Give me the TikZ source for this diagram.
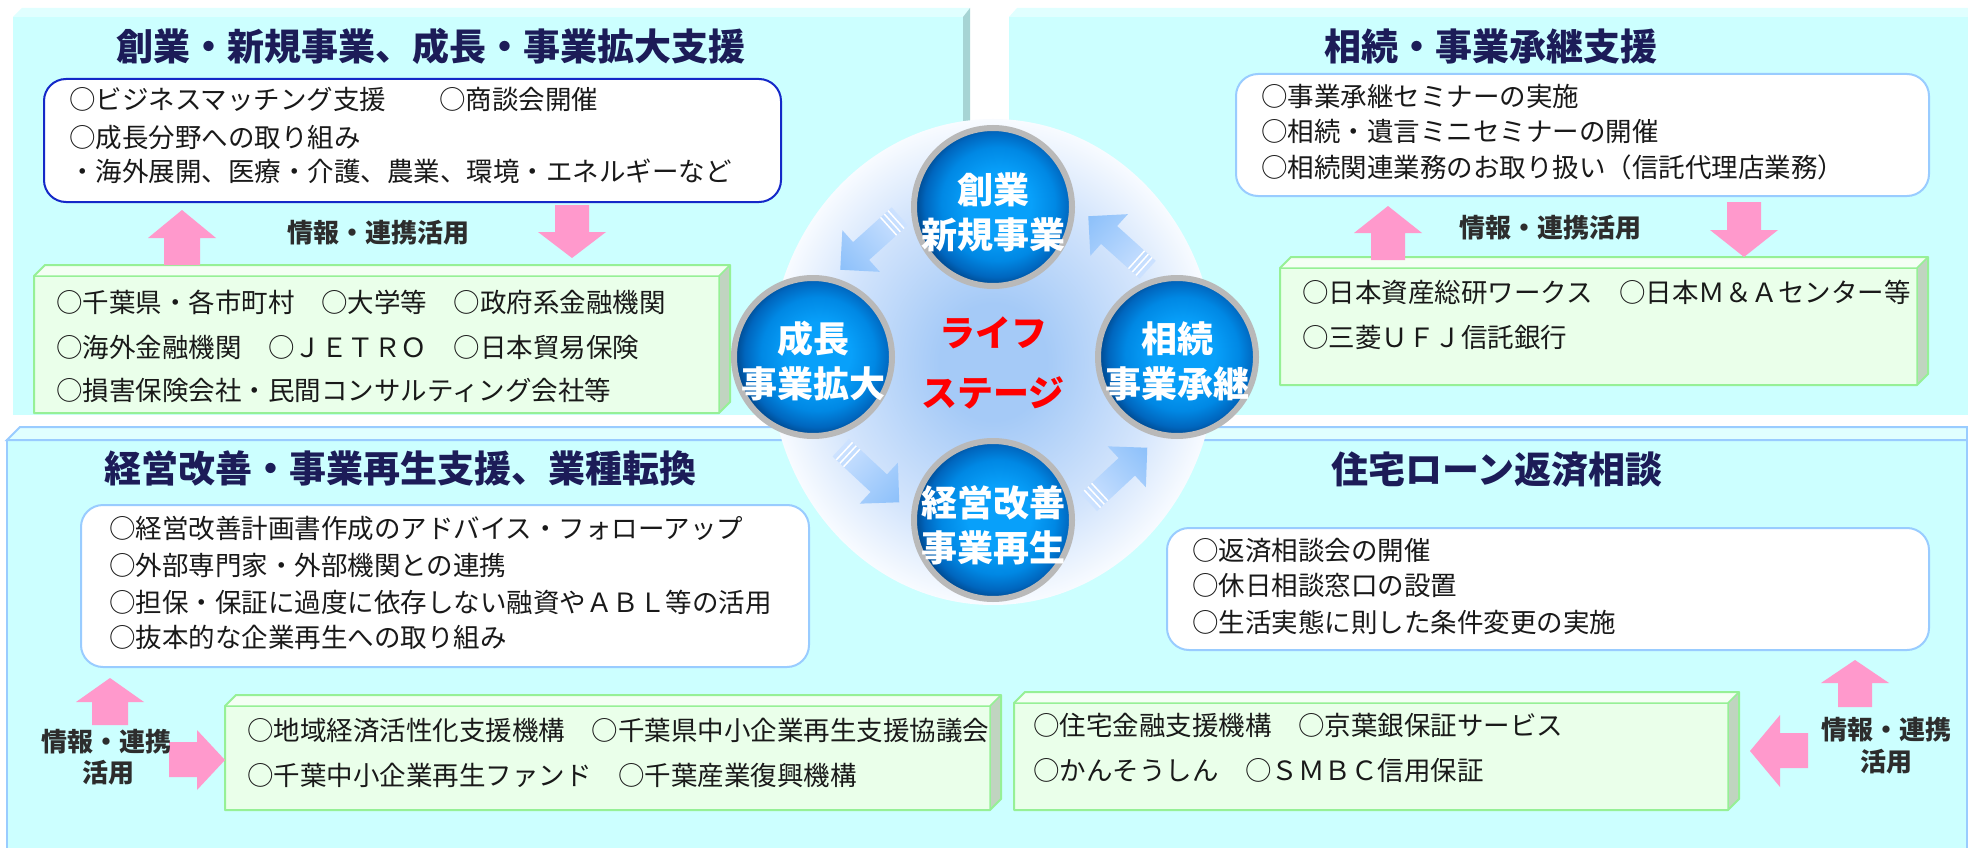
\documentclass[tikz,border=0pt]{standalone}
\usepackage{fontspec}
\setmainfont{Noto Sans CJK JP}
\usetikzlibrary{calc}
\definecolor{panelc}{RGB}{204,255,255}
\definecolor{panelt}{RGB}{224,255,255}
\definecolor{panels}{RGB}{166,212,212}
\definecolor{panelb}{RGB}{153,204,255}
\definecolor{greenf}{RGB}{234,255,234}
\definecolor{greent}{RGB}{244,255,244}
\definecolor{greens}{RGB}{192,212,192}
\definecolor{greenb}{RGB}{150,240,150}
\definecolor{navy}{RGB}{28,28,88}
\definecolor{bodyc}{RGB}{25,25,25}
\definecolor{labelc}{RGB}{45,45,45}
\definecolor{darkblueb}{RGB}{20,40,200}
\definecolor{lightblueb}{RGB}{153,204,255}
\definecolor{pinkc}{RGB}{255,153,204}
\definecolor{arrowb}{RGB}{140,192,250}
\definecolor{arrowt}{RGB}{205,226,255}
\definecolor{glowc}{RGB}{165,202,247}
\definecolor{glowm}{RGB}{212,229,252}
\definecolor{glowe}{RGB}{248,251,255}
\definecolor{ringc}{RGB}{185,185,185}
\definecolor{ballc}{RGB}{8,160,250}
\definecolor{ballm}{RGB}{0,136,228}
\definecolor{balld}{RGB}{0,102,190}
\definecolor{balle}{RGB}{0,70,138}
\pgfdeclareradialshading{glowshade}{\pgfpoint{0bp}{0bp}}{color(0bp)=(glowc); color(6bp)=(glowc); color(18bp)=(glowm); color(25bp)=(glowe); color(50bp)=(glowe)}
\pgfdeclareradialshading{ballshade}{\pgfpoint{2.5bp}{1.5bp}}{color(0bp)=(ballc); color(10bp)=(ballc); color(18bp)=(ballm); color(23bp)=(balld); color(26bp)=(balle); color(50bp)=(balle)}
\newcommand\greenbox[4]{%
  \fill[greenf] (#1,{#2+11}) rectangle (#3,#4);
  \fill[greent] (#1,{#2+11}) -- ({#1+11},#2) -- ({#3+11},#2) -- (#3,{#2+11}) -- cycle;
  \fill[greens] (#3,{#2+11}) -- ({#3+11},#2) -- ({#3+11},{#4-11}) -- (#3,#4) -- cycle;
  \draw[greenb, line width=2pt, line join=round] (#1,{#2+11}) -- ({#1+11},#2) -- ({#3+11},#2) -- ({#3+11},{#4-11}) -- (#3,#4) -- (#1,#4) -- cycle;
  \draw[greenb, line width=1.5pt] (#1,{#2+11}) -- (#3,{#2+11}) -- ({#3+11},#2) (#3,{#2+11}) -- (#3,#4);}
\newcommand\lsarrow[2]{%
  \begin{scope}[transform canvas={shift={#1}, rotate=#2}]
    \shade[left color=arrowt, right color=arrowb] (-40,-12) -- (12,-12) -- (12,-28) -- (40,0) -- (12,28) -- (12,12) -- (-40,12) -- cycle;
    \draw[white, line width=1.5pt] (-35,-12) -- (-35,12) (-30,-12) -- (-30,12) (-25,-12) -- (-25,12);
  \end{scope}}
\tikzset{
  title/.style={font=\fontsize{37}{40}\selectfont\bfseries, text=navy, inner sep=0pt},
  body/.style={font=\fontsize{26.5}{30}\selectfont, text=bodyc, anchor=base west, inner sep=0pt},
  lbl/.style={font=\fontsize{26}{30}\selectfont\bfseries, text=labelc, inner sep=0pt},
  ball/.style={circle, minimum size=158pt, inner sep=0pt, shading=ballshade, draw=ringc, line width=6pt},
  balltxt/.style={font=\fontsize{36}{45}\selectfont\bfseries, text=white, align=center, inner sep=0pt},
  lifetxt/.style={font=\fontsize{36}{60}\selectfont\bfseries, text=red, align=center, inner sep=0pt},
  whitebox/.style={draw=lightblueb, line width=2pt, fill=white, rounded corners=22pt},
  pinkarr/.style={fill=pinkc, draw=none}
}
\begin{document}
\begin{tikzpicture}[x=1pt,y=-1pt]
\useasboundingbox (0,0) rectangle (1968,848);
\fill[white] (0,0) rectangle (1968,848);
% panels
\fill[panelc] (13,17) rectangle (963,415);
\fill[panelt] (13,17) -- (22,8) -- (970,8) -- (963,17) -- cycle;
\fill[panels] (963,17) -- (970,8) -- (970,408) -- (963,415) -- cycle;
\fill[panelc] (1009,17) rectangle (1968,415);
\fill[panelt] (1009,17) -- (1017,8) -- (1968,8) -- (1968,17) -- cycle;
\filldraw[fill=panelc, draw=panelb, line width=2pt] (7,440) rectangle (1967,852);
\filldraw[fill=panelt, draw=panelb, line width=2pt] (7,440) -- (20,427) -- (1967,427) -- (1967,440) -- cycle;
% central glow
\shade[shading=glowshade] (993,362) ellipse [x radius=223, y radius=243];
% titles
\node[title] (t1) at (431,46) {創業・新規事業、成長・事業拡大支援};
\node[title] (t2) at (1491,46) {相続・事業承継支援};
\node[title] (t3) at (400,468) {経営改善・事業再生支援、業種転換};
\node[title] (t4) at (1497,470) {住宅ローン返済相談};
% white boxes
\draw[whitebox, draw=darkblueb] (44,79) rectangle (781,202);
\draw[whitebox] (1236,74) rectangle (1929,196);
\draw[whitebox] (81,505) rectangle (809,667);
\draw[whitebox] (1167,528) rectangle (1929,650);
% green boxes
\greenbox{34}{265}{719}{413}
\greenbox{1280}{257}{1917}{385}
\greenbox{225}{695}{990}{810}
\greenbox{1014}{692}{1728}{810}
% pink arrows
\fill[pinkarr] (164,265) -- (164,238) -- (148,238) -- (182,210) -- (216,238) -- (200,238) -- (200,265) -- cycle;
\fill[pinkarr] (555,205) -- (555,232) -- (538,232) -- (572,258) -- (606,232) -- (589,232) -- (589,205) -- cycle;
\fill[pinkarr] (1371,260) -- (1371,233) -- (1354,233) -- (1388,206) -- (1422,233) -- (1405,233) -- (1405,260) -- cycle;
\fill[pinkarr] (1727,202) -- (1727,230) -- (1710,230) -- (1744,257) -- (1778,230) -- (1761,230) -- (1761,202) -- cycle;
\fill[pinkarr] (92,725) -- (92,702) -- (76,702) -- (110,678) -- (144,702) -- (128,702) -- (128,725) -- cycle;
\fill[pinkarr] (169,742) -- (197,742) -- (197,730) -- (225,760) -- (197,790) -- (197,777) -- (169,777) -- cycle;
\fill[pinkarr] (1838,707) -- (1838,683) -- (1821,683) -- (1855,660) -- (1889,683) -- (1872,683) -- (1872,707) -- cycle;
\fill[pinkarr] (1808,733) -- (1780,733) -- (1780,715) -- (1750,751) -- (1780,787) -- (1780,768) -- (1808,768) -- cycle;
% labels
\node[lbl] (l1) at (378,233) {情報・連携活用};
\node[lbl] (l2) at (1550,228) {情報・連携活用};
\node[lbl] (l3a) at (106,742) {情報・連携};
\node[lbl] (l3b) at (108,773) {活用};
\node[lbl] (l4a) at (1886,730) {情報・連携};
\node[lbl] (l4b) at (1886,762) {活用};
% body text
\node[body] (a1) at (69,110) {○ビジネスマッチング支援　　○商談会開催};
\node[body] (a2) at (69,147) {○成長分野への取り組み};
\node[body] (a3) at (69,182) {・海外展開、医療・介護、農業、環境・エネルギーなど};
\node[body] (b1) at (56,312) {○千葉県・各市町村　○大学等　○政府系金融機関};
\node[body] (b2) at (56,357) {○海外金融機関　○ＪＥＴＲＯ　○日本貿易保険};
\node[body] (b3) at (56,400) {○損害保険会社・民間コンサルティング会社等};
\node[body] (c1) at (1261,107) {○事業承継セミナーの実施};
\node[body] (c2) at (1261,142) {○相続・遺言ミニセミナーの開催};
\node[body] (c3) at (1261,177) {○相続関連業務のお取り扱い（信託代理店業務）};
\node[body] (d1) at (1302,302) {○日本資産総研ワークス　○日本Ｍ＆Ａセンター等};
\node[body] (d2) at (1302,347) {○三菱ＵＦＪ信託銀行};
\node[body] (e1) at (109,538) {○経営改善計画書作成のアドバイス・フォローアップ};
\node[body] (e2) at (109,575) {○外部専門家・外部機関との連携};
\node[body] (e3) at (109,612) {○担保・保証に過度に依存しない融資やＡＢＬ等の活用};
\node[body] (e4) at (109,647) {○抜本的な企業再生への取り組み};
\node[body] (f1) at (247,740) {○地域経済活性化支援機構　○千葉県中小企業再生支援協議会};
\node[body] (f2) at (247,785) {○千葉中小企業再生ファンド　○千葉産業復興機構};
\node[body] (g1) at (1192,560) {○返済相談会の開催};
\node[body] (g2) at (1192,595) {○休日相談窓口の設置};
\node[body] (g3) at (1192,632) {○生活実態に則した条件変更の実施};
\node[body] (h1) at (1033,735) {○住宅金融支援機構　○京葉銀保証サービス};
\node[body] (h2) at (1033,780) {○かんそうしん　○ＳＭＢＣ信用保証};
% cycle arrows
\lsarrow{(870,243)}{222}
\lsarrow{(870,475)}{-43}
\lsarrow{(1118,475)}{43}
\lsarrow{(1118,243)}{138}
% balls
\node[ball] (top) at (993,207) {};
\node[ball] (left) at (813,357) {};
\node[ball] (right) at (1177,357) {};
\node[ball] (bottom) at (993,520) {};
\node[balltxt] (topt) at ($(top)+(0,5)$) {創業\\新規事業};
\node[balltxt] (leftt) at ($(left)+(0,4)$) {成長\\事業拡大};
\node[balltxt] (rightt) at ($(right)+(0,4)$) {相続\\事業承継};
\node[balltxt] (bottomt) at ($(bottom)+(0,5)$) {経営改善\\事業再生};
\node[lifetxt] (life) at (993,363) {ライフ\\ステージ};
\end{tikzpicture}
\end{document}
